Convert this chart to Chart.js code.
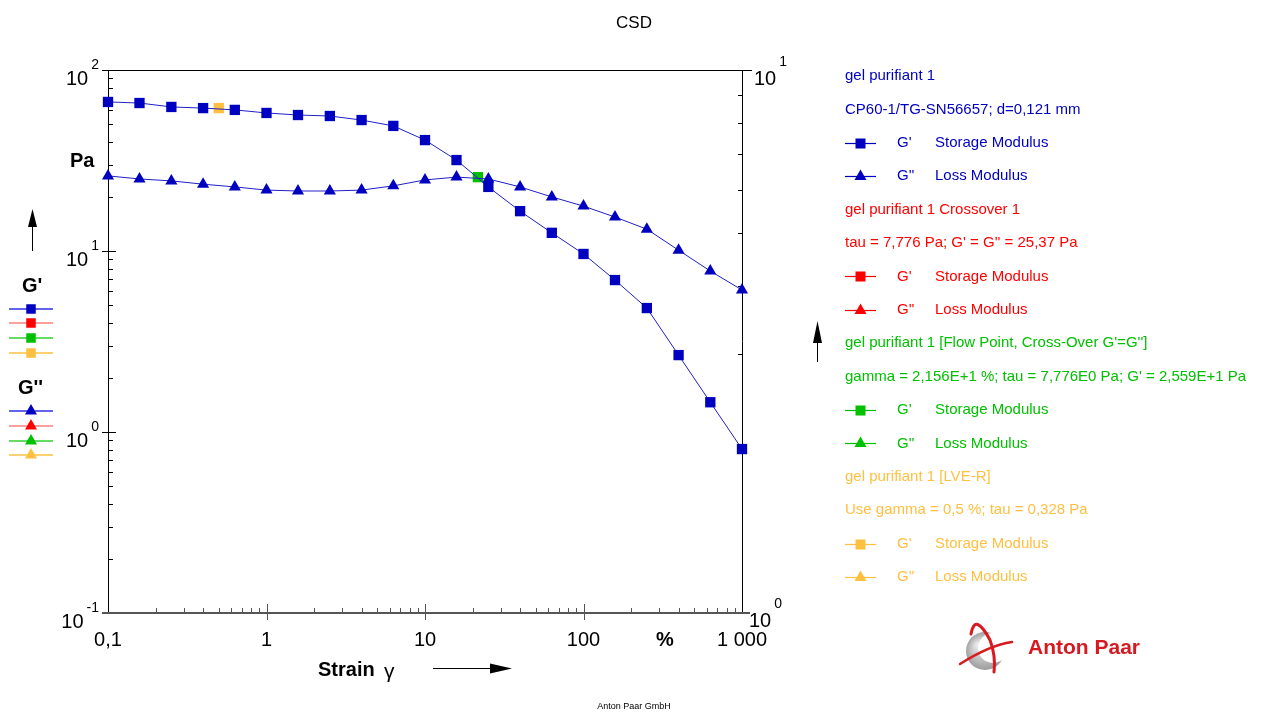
<!DOCTYPE html>
<html>
<head>
<meta charset="utf-8">
<script src="https://cdn.jsdelivr.net/npm/chart.js@4"></script>
<style>
  html, body { margin: 0; padding: 0; background: #fff; }
  canvas { display: block; }
</style>
</head>
<body>
<canvas id="graf" width="1269" height="713"></canvas>
<script>
// strain in %, moduli in Pa
const strain = [0.1, 0.158, 0.251, 0.398, 0.631, 1, 1.58, 2.51, 3.98, 6.31, 10, 15.8, 25.1, 39.8, 63.1, 100, 158, 251, 398, 631, 1000]
const storageModulus = [66.6, 65.7, 62.5, 61.6, 60.2, 57.9, 56.4, 55.7, 52.9, 49.1, 41.0, 31.8, 22.6, 16.6, 12.6, 9.63, 6.91, 4.84, 2.66, 1.46, 0.805]
const lossModulus = [26.0, 25.0, 24.4, 23.4, 22.6, 21.7, 21.45, 21.45, 21.7, 22.9, 24.7, 25.6, 25.0, 22.6, 19.9, 17.7, 15.4, 13.2, 10.1, 7.75, 6.09]
const crossoverStrain = [21.56]
const crossoverG = [25.59]
const lveStrain = [0.5]
const lveG = [61.6]

const xTickValues = [0.1, 1, 10, 100, 1000]
const xTickLabels = ['0,1', '1', '10', '100', '1 000']
const yTickExps = [2, 1, 0, -1]
const y2TickExps = [1, 0]

const BLUE = '#0000c0'
const RED = '#ff0000'
const GREEN = '#00c000'
const ORANGE = '#ffbf40'
const FONT = '"Liberation Sans", Arial, sans-serif'

function pts(xs, ys) {
    return xs.map((v, i) => ({ x: v, y: ys[i] }))
}

function line(ctx, x1, y1, x2, y2) {
    ctx.beginPath()
    ctx.moveTo(x1, y1)
    ctx.lineTo(x2, y2)
    ctx.stroke()
}

function marker(ctx, type, cx, cy, color, s) {
    ctx.fillStyle = color
    if (type === 'rect') {
        ctx.fillRect(cx - s / 2, cy - s / 2, s, s)
    } else {
        ctx.beginPath()
        ctx.moveTo(cx, cy - s * 0.6)
        ctx.lineTo(cx + s * 0.6, cy + s * 0.45)
        ctx.lineTo(cx - s * 0.6, cy + s * 0.45)
        ctx.closePath()
        ctx.fill()
    }
}

function arrow(ctx, x1, y1, x2, y2, head, w) {
    // shaft from (x1,y1) to tip (x2,y2)
    const ang = Math.atan2(y2 - y1, x2 - x1)
    const bx = x2 - Math.cos(ang) * head
    const by = y2 - Math.sin(ang) * head
    ctx.strokeStyle = '#000'
    ctx.lineWidth = 1
    line(ctx, x1, y1, bx, by)
    ctx.fillStyle = '#000'
    ctx.beginPath()
    ctx.moveTo(x2, y2)
    ctx.lineTo(bx - Math.sin(ang) * w, by + Math.cos(ang) * w)
    ctx.lineTo(bx + Math.sin(ang) * w, by - Math.cos(ang) * w)
    ctx.closePath()
    ctx.fill()
}

// "10" with superscript exponent
function pow10(ctx, exp, x, tickY, align, supDy) {
    ctx.fillStyle = '#000'
    ctx.textBaseline = 'alphabetic'
    ctx.textAlign = 'left'
    ctx.font = '20px ' + FONT
    const bw = ctx.measureText('10').width
    ctx.font = '14px ' + FONT
    const ew = ctx.measureText(String(exp)).width
    let left = align === 'right' ? x - bw - ew - 2 : x
    ctx.font = '20px ' + FONT
    ctx.fillText('10', left, tickY + 15)
    ctx.font = '14px ' + FONT
    ctx.fillText(String(exp), left + bw + 3, tickY - 1 + (supDy || 0))
}

const axisPlugin = {
    id: 'axisPlugin',
    beforeDatasetsDraw(chart) {
        const { ctx, chartArea: a, scales } = chart
        const x = scales.x, y = scales.y, y2 = scales.y2
        ctx.save()
        ctx.strokeStyle = '#000'
        ctx.lineWidth = 1
        // frame
        line(ctx, a.left - 6, a.top + 0.5, a.right + 10, a.top + 0.5)
        line(ctx, a.left + 0.5, a.top, a.left + 0.5, a.bottom)
        line(ctx, a.right + 0.5, a.top, a.right + 0.5, a.bottom)
        // left axis ticks
        for (let e = -1; e < 2; e++) {
            for (let m = 2; m <= 9; m++) {
                const py = Math.round(y.getPixelForValue(m * Math.pow(10, e))) + 0.5
                line(ctx, a.left, py, a.left + 5, py)
            }
        }
        for (const e of [1, 0]) {
            const py = Math.round(y.getPixelForValue(Math.pow(10, e))) + 0.5
            line(ctx, a.left - 6, py, a.left + 8, py)
        }
        // right axis ticks
        for (let m = 2; m <= 9; m++) {
            const py = Math.round(y2.getPixelForValue(m)) + 0.5
            line(ctx, a.right - 4, py, a.right, py)
        }
        // bottom axis
        ctx.strokeStyle = '#555'
        ctx.lineWidth = 2
        line(ctx, a.left - 6, a.bottom, a.right + 8, a.bottom)
        ctx.lineWidth = 1
        for (let e = -1; e < 3; e++) {
            for (let m = 2; m <= 9; m++) {
                const px = Math.round(x.getPixelForValue(m * Math.pow(10, e))) + 0.5
                line(ctx, px, a.bottom, px, a.bottom - 5)
            }
        }
        for (const v of [1, 10, 100]) {
            const px = Math.round(x.getPixelForValue(v)) + 0.5
            line(ctx, px, a.bottom - 9, px, a.bottom + 7)
        }
        ctx.restore()
    },
    afterDraw(chart) {
        const { ctx, chartArea: a, scales } = chart
        const x = scales.x, y = scales.y, y2 = scales.y2
        ctx.save()

        // tick labels
        yTickExps.forEach(e => pow10(ctx, e, a.left - 10, y.getPixelForValue(Math.pow(10, e)), 'right', 0))
        y2TickExps.forEach(e => pow10(ctx, e, a.right + (e === 0 ? 7 : 12), y2.getPixelForValue(Math.pow(10, e)) + (e === 0 ? -1 : 0), 'left', -3))
        ctx.font = '20px ' + FONT
        ctx.fillStyle = '#000'
        ctx.textAlign = 'center'
        ctx.textBaseline = 'alphabetic'
        xTickValues.forEach((v, i) => ctx.fillText(xTickLabels[i], x.getPixelForValue(v), a.bottom + 33))
        ctx.font = 'bold 20px ' + FONT
        ctx.fillText('%', 665, a.bottom + 33)

        // axis titles
        ctx.textAlign = 'left'
        ctx.fillText('Pa', 70, 167)
        ctx.fillText('Strain', 318, 676)
        ctx.font = '21px ' + FONT
        ctx.fillText('\u03b3', 384, 678)
        arrow(ctx, 433, 668.5, 512, 668.5, 22, 5)
        arrow(ctx, 32.5, 251, 32.5, 209, 18, 4.5)
        arrow(ctx, 817.5, 362, 817.5, 321, 22, 4.5)

        // title + footer
        ctx.fillStyle = '#000'
        ctx.textAlign = 'center'
        ctx.font = '17px ' + FONT
        ctx.fillText('CSD', 634, 28)
        ctx.font = '9px ' + FONT
        ctx.fillText('Anton Paar GmbH', 634, 709)

        // left legend
        ctx.textAlign = 'left'
        ctx.font = 'bold 20px ' + FONT
        ctx.fillStyle = '#000'
        ctx.fillText("G'", 22, 292)
        ctx.fillText("G''", 18, 394)
        const lineCols = ['#3030e0', '#ff8080', '#30d030', '#ffc040']
        const markCols = [BLUE, RED, GREEN, ORANGE]
        const sqY = [309, 323, 338, 353]
        const trY = [411, 426, 441, 455]
        for (let i = 0; i < 4; i++) {
            ctx.strokeStyle = lineCols[i]
            ctx.lineWidth = 1.5
            line(ctx, 9, sqY[i], 53, sqY[i])
            marker(ctx, 'rect', 31, sqY[i], markCols[i], 9.5)
            line(ctx, 9, trY[i], 53, trY[i])
            marker(ctx, 'tri', 31, trY[i] - 1, markCols[i], 10)
        }

        // right legend
        const groups = [
            [BLUE, 'gel purifiant 1', 'CP60-1/TG-SN56657; d=0,121 mm'],
            [RED, 'gel purifiant 1 Crossover 1', "tau = 7,776 Pa; G' = G'' = 25,37 Pa"],
            [GREEN, "gel purifiant 1 [Flow Point, Cross-Over G'=G'']", "gamma = 2,156E+1 %; tau = 7,776E0 Pa; G' = 2,559E+1 Pa"],
            [ORANGE, 'gel purifiant 1 [LVE-R]', 'Use gamma = 0,5 %; tau = 0,328 Pa']
        ]
        ctx.font = '15px ' + FONT
        ctx.textBaseline = 'middle'
        let ry = 76
        const step = 33.4
        groups.forEach(g => {
            const c = g[0]
            ctx.fillStyle = c
            ctx.fillText(g[1], 845, ry)
            ctx.fillText(g[2], 845, ry + step)
            const r1 = ry + 2 * step, r2 = ry + 3 * step
            ctx.strokeStyle = c
            ctx.lineWidth = 1.2
            line(ctx, 845, Math.round(r1) + 0.5, 876, Math.round(r1) + 0.5)
            line(ctx, 845, Math.round(r2) + 0.5, 876, Math.round(r2) + 0.5)
            marker(ctx, 'rect', 860.5, Math.round(r1) + 0.5, c, 10)
            marker(ctx, 'tri', 860.5, Math.round(r2) - 0.5, c, 10)
            ctx.fillStyle = c
            ctx.fillText("G'", 897, r1)
            ctx.fillText('Storage Modulus', 935, r1)
            ctx.fillText("G''", 897, r2)
            ctx.fillText('Loss Modulus', 935, r2)
            ry += 4 * step
        })

        // logo
        ctx.textBaseline = 'alphabetic'
        const grad = ctx.createRadialGradient(978, 645, 2, 985, 651, 20)
        grad.addColorStop(0, '#e8e8e8')
        grad.addColorStop(1, '#9a9a9a')
        ctx.fillStyle = grad
        ctx.beginPath()
        ctx.arc(985, 651, 19, 0, Math.PI * 2)
        ctx.fill()
        ctx.fillStyle = '#fff'
        ctx.beginPath()
        ctx.arc(993, 648, 15, 0, Math.PI * 2)
        ctx.fill()
        ctx.strokeStyle = '#d71920'
        ctx.lineCap = 'round'
        ctx.lineWidth = 3
        ctx.beginPath()
        ctx.moveTo(971, 634)
        ctx.quadraticCurveTo(975, 612, 990, 640)
        ctx.quadraticCurveTo(996, 656, 994, 672)
        ctx.stroke()
        ctx.lineWidth = 2.5
        ctx.beginPath()
        ctx.moveTo(960, 664)
        ctx.quadraticCurveTo(990, 645, 1012, 642)
        ctx.stroke()
        ctx.fillStyle = '#d71920'
        ctx.font = 'bold 21px ' + FONT
        ctx.textAlign = 'left'
        ctx.fillText('Anton Paar', 1028, 654)

        ctx.restore()
    }
}

const data = {
    datasets: [
        {
            label: "G'' Loss Modulus",
            data: pts(strain, lossModulus),
            showLine: true,
            borderColor: '#2020c8',
            borderWidth: 1,
            pointStyle: 'triangle',
            pointRadius: 7,
            pointBackgroundColor: BLUE,
            pointBorderColor: BLUE,
            pointBorderWidth: 0,
            clip: false
        },
        {
            label: "G' Storage Modulus",
            data: pts(strain, storageModulus),
            showLine: true,
            borderColor: '#2020c8',
            borderWidth: 1,
            pointStyle: 'rect',
            pointRadius: 7.3,
            pointBackgroundColor: BLUE,
            pointBorderColor: BLUE,
            pointBorderWidth: 0,
            clip: false
        },
        {
            label: 'Flow Point',
            data: pts(crossoverStrain, crossoverG),
            showLine: false,
            pointStyle: 'rect',
            pointRadius: 7.3,
            pointBackgroundColor: GREEN,
            pointBorderWidth: 0,
            clip: false
        },
        {
            label: 'LVE-R',
            data: pts(lveStrain, lveG),
            showLine: false,
            pointStyle: 'rect',
            pointRadius: 7.3,
            pointBackgroundColor: ORANGE,
            pointBorderWidth: 0,
            clip: false
        }
    ]
}

const config = {
    type: 'scatter',
    data: data,
    options: {
        responsive: false,
        animation: false,
        layout: { padding: { left: 108, top: 70, right: 527, bottom: 100 } },
        plugins: {
            legend: { display: false },
            tooltip: { enabled: false },
            title: { display: false }
        },
        scales: {
            x: { type: 'logarithmic', min: 0.1, max: 1000, display: false },
            y: { type: 'logarithmic', min: 0.1, max: 100, display: false },
            y2: { type: 'logarithmic', position: 'right', min: 1, max: 10, display: false }
        }
    },
    plugins: [axisPlugin]
}

new Chart(document.getElementById('graf').getContext('2d'), config)
</script>
</body>
</html>
